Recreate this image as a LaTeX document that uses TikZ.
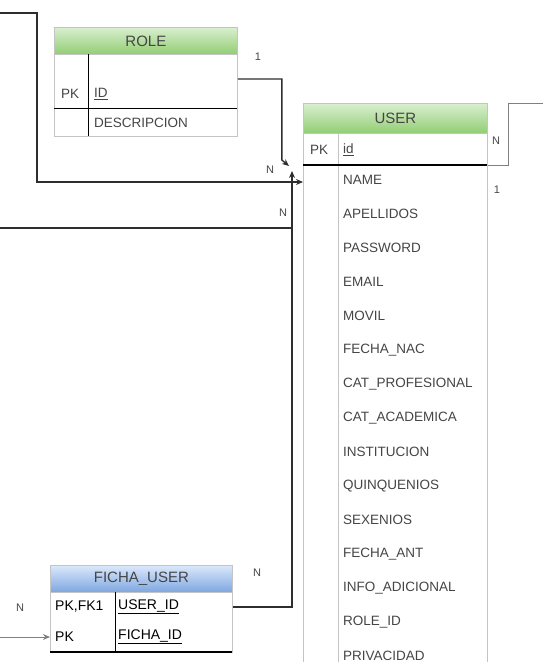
\documentclass[tikz,border=0pt]{standalone}
\usepackage{fontspec}
\setmainfont{Liberation Sans}
\usetikzlibrary{arrows.meta}
\definecolor{hdgreentop}{HTML}{D8EFCF}
\definecolor{hdgreenbot}{HTML}{92CD73}
\definecolor{hdbluetop}{HTML}{DAE8FC}
\definecolor{hdbluebot}{HTML}{7EA6E0}
\definecolor{tblline}{HTML}{C4C4C4}
\definecolor{txtgray}{HTML}{454545}
\definecolor{lnkgray}{HTML}{2E2E2E}
\tikzset{tblhead/.style={draw=tblline, line width=0.8pt, inner sep=0pt, anchor=north west, font=\fontsize{15}{18}\selectfont, text=txtgray}}
\tikzset{tblbody/.style={draw=tblline, line width=0.8pt, fill=white, inner sep=0pt, anchor=north west}}
\tikzset{field/.style={anchor=west, inner sep=0pt, font=\fontsize{13.5}{16}\selectfont, text=txtgray}}
\tikzset{card/.style={inner sep=0pt, font=\fontsize{11}{13}\selectfont, text=txtgray}}
\tikzset{rel/.style={draw=lnkgray, line width=1.4pt, -{Stealth[length=7pt,width=6pt]}}}

\begin{document}
\begin{tikzpicture}[x=1pt,y=-1pt]
    \useasboundingbox (0,0) rectangle (543,662);
    \clip (0,0) rectangle (543,662);

    % ROLE
    \node[tblbody, minimum width=183pt, minimum height=82pt] (rolebody) at (54,54) {};
    \node[tblhead, top color=hdgreentop, bottom color=hdgreenbot, minimum width=183pt, minimum height=27pt] (rolehead) at (54,27) {ROLE};
    \draw[line width=1pt] (88,54) -- (88,136);
    \draw[line width=1pt] (54,108) -- (237,108);
    \node[field] (rolepk) at (61,94) {PK};
    \node[field] (roleid) at (94,94) {\underline{ID}};
    \node[field] (roledesc) at (94,123) {DESCRIPCION};

    % USER
    \node[tblbody, minimum width=184pt, minimum height=540pt] (userbody) at (303,133) {};
    \node[tblhead, top color=hdgreentop, bottom color=hdgreenbot, minimum width=184pt, minimum height=30pt] (userhead) at (303,103) {USER};
    \draw[tblline, line width=1pt] (338,133) -- (338,670);
    \draw[line width=1.2pt] (303,165) -- (487,165);
    \node[field] (userpk) at (310,150) {PK};
    \node[field] (userid) at (343,150) {\underline{id}};
    \foreach \f [count=\i] in {NAME,APELLIDOS,PASSWORD,EMAIL,MOVIL,FECHA\_NAC,CAT\_PROFESIONAL,CAT\_ACADEMICA,INSTITUCION,QUINQUENIOS,SEXENIOS,FECHA\_ANT,INFO\_ADICIONAL,ROLE\_ID,PRIVACIDAD}
        \node[field] (uf\i) at (343,146+34*\i) {\f};

    % FICHA_USER
    \node[tblbody, minimum width=182pt, minimum height=60pt] (fichabody) at (50,592) {};
    \node[tblhead, top color=hdbluetop, bottom color=hdbluebot, minimum width=182pt, minimum height=27pt] (fichahead) at (50,565) {FICHA\_USER};
    \draw[line width=1pt] (115,592) -- (115,652);
    \draw[line width=1.2pt] (50,652) -- (232,652);
    \node[field, text=black, font=\fontsize{14}{16}\selectfont] (fichapk1) at (55,607) {PK,FK1};
    \node[field, text=black, font=\fontsize{14}{16}\selectfont] (fichauid) at (118,607) {\underline{USER\_ID}};
    \node[field, text=black, font=\fontsize{14}{16}\selectfont] (fichapk2) at (55,637) {PK};
    \node[field, text=black, font=\fontsize{14}{16}\selectfont] (fichafid) at (118,637) {\underline{FICHA\_ID}};

    % ends of the links
    \coordinate (lfttop) at (0,13);
    \coordinate (lftmid) at (0,228);
    \coordinate (lftbot) at (0,637);
    \coordinate (rgttop) at (545,103);
    \coordinate (uin1) at ([yshift=-49pt]userbody.north west);
    \coordinate (uin2) at ([xshift=-14pt,yshift=-33pt]userbody.north west);
    \coordinate (uin3) at ([xshift=-11pt,yshift=-38pt]userbody.north west);
    \coordinate (uout) at ([yshift=-32pt]userbody.north east);
    \coordinate (roleout) at ([yshift=-25pt]rolebody.north east);
    \coordinate (fichaout) at ([yshift=-15pt]fichabody.north east);
    \coordinate (fichain) at ([yshift=-45pt]fichabody.north west);

    % links
    \draw[rel] (lfttop) -- ++(37,0) |- (uin1);
    \draw[rel] (roleout) -- ++(44,0) -- ++(0,81) -- (uin2);
    \draw[rel] (fichaout) -| (uin3);
    \draw[draw=lnkgray, line width=1.2pt] (lftmid) -- (lftmid -| uin3);
    \draw[draw=gray, line width=1pt] (uout) -- ++(21,0) |- (rgttop);
    \draw[draw=gray, line width=1pt, -{Stealth[length=7pt,width=6pt,fill=lnkgray]}] (lftbot) -- (fichain);

    % cardinalities
    \node[card] (c1) at (258,57) {1};
    \node[card] (c2) at (270,170) {N};
    \node[card] (c3) at (283,213) {N};
    \node[card] (c4) at (496,141) {N};
    \node[card] (c5) at (497,190) {1};
    \node[card] (c6) at (257,573) {N};
    \node[card] (c7) at (20,608) {N};
\end{tikzpicture}
\end{document}
